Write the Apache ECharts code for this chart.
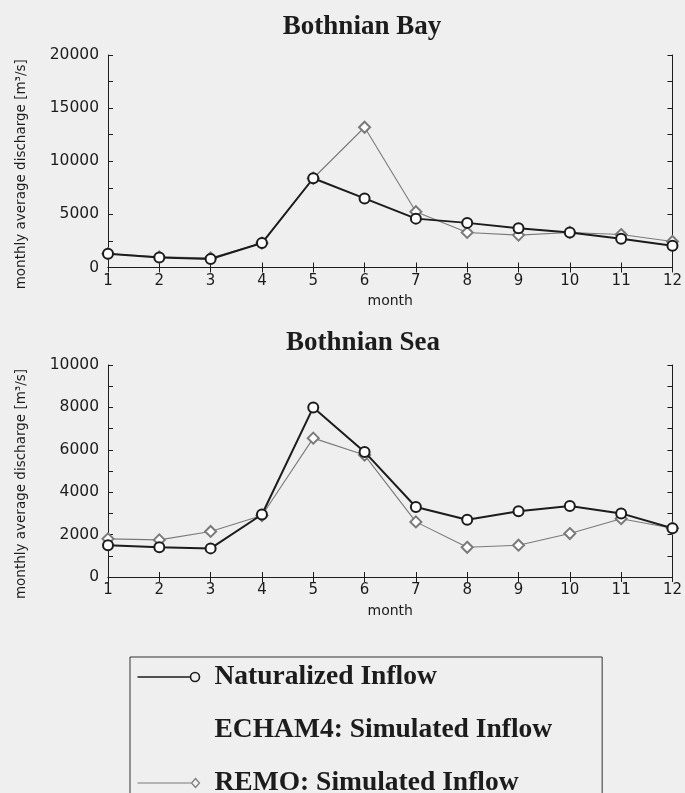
<!DOCTYPE html>
<html>
<head>
<meta charset="utf-8">
<script src="https://cdn.jsdelivr.net/npm/echarts@6/dist/echarts.min.js"></script>
<style>
  html, body { margin: 0; padding: 0; background: #efefef; }
  #chart { width: 685px; height: 793px; }
</style>
</head>
<body>
<div id="chart"></div>
<script>
// Months on the horizontal axis
const months = [1, 2, 3, 4, 5, 6, 7, 8, 9, 10, 11, 12];

// Bothnian Bay, monthly average discharge (m3/s)
const bayNaturalized = [1300, 950, 800, 2300, 8400, 6500, 4600, 4200, 3700, 3300, 2700, 2050];
const bayRemo        = [1300, 1000, 900, 2300, 8400, 13200, 5250, 3300, 3050, 3300, 3100, 2450];

// Bothnian Sea, monthly average discharge (m3/s)
const seaNaturalized = [1500, 1400, 1350, 2950, 8000, 5900, 3300, 2700, 3100, 3350, 3000, 2300];
const seaRemo        = [1800, 1750, 2150, 2900, 6550, 5750, 2600, 1400, 1500, 2050, 2750, 2300];

// Tick labels
const bayTicks = [0, 5000, 10000, 15000, 20000];
const seaTicks = [0, 2000, 4000, 6000, 8000, 10000];

const names = ['Naturalized Inflow', 'ECHAM4: Simulated Inflow', 'REMO: Simulated Inflow'];

const pairs = vals => months.map((m, i) => [m, vals[i]]);

const sansFont = 'DejaVu Sans';
const serifFont = 'Liberation Serif';
const ink = '#1c1c1c';
const remoGrey = '#7a7a7a';
const bg = '#efefef';

// Legend keys: a line ending in the series marker
const circleKey = 'path://M0,6 L53,6 M53,6 A4.5,4.5 0 1 1 62,6 A4.5,4.5 0 1 1 53,6 Z';
const diamondKey = 'path://M0,6 L54,6 M58,1.5 L62,6 L58,10.5 L54,6 Z';

function xAxes(gridIndex) {
  const base = {
    type: 'value', gridIndex, min: 1, max: 12, interval: 1,
    axisLine: { show: true, lineStyle: { color: ink, width: 1 } },
    axisTick: { show: true, inside: true, length: 5, lineStyle: { color: ink } },
    splitLine: { show: false }
  };
  return [
    Object.assign({}, base, {
      position: 'bottom',
      name: 'month', nameLocation: 'middle', nameGap: 27,
      nameTextStyle: { fontFamily: sansFont, fontSize: 14, color: ink },
      axisLabel: { fontFamily: sansFont, fontSize: 15, color: ink, margin: 6 }
    }),
    Object.assign({}, base, { position: 'top', axisLabel: { show: false } })
  ];
}

function yAxes(gridIndex, max, step, labels) {
  const base = {
    type: 'value', gridIndex, min: 0, max, interval: step,
    axisLine: { show: true, lineStyle: { color: ink, width: 1 } },
    axisTick: { show: true, inside: true, length: 5, lineStyle: { color: ink } },
    splitLine: { show: false }
  };
  return [
    Object.assign({}, base, {
      position: 'left',
      name: 'monthly average discharge [m\u00B3/s]', nameLocation: 'middle', nameGap: 80,
      nameTextStyle: { fontFamily: sansFont, fontSize: 13.5, color: ink, padding: [0, 26, 0, 0] },
      axisLabel: {
        fontFamily: sansFont, fontSize: 15.5, color: ink, margin: 9,
        formatter: v => (labels.indexOf(v) >= 0 ? String(v) : '')
      }
    }),
    Object.assign({}, base, { position: 'right', axisLabel: { show: false } })
  ];
}

function naturalSeries(idx, data) {
  return {
    name: names[0], type: 'line', xAxisIndex: idx * 2, yAxisIndex: idx * 2,
    data: pairs(data), symbol: 'emptyCircle', symbolSize: 10, z: 3,
    lineStyle: { color: ink, width: 2 },
    itemStyle: { color: ink, borderWidth: 1.6 }
  };
}
function remoSeries(idx, data) {
  return {
    name: names[2], type: 'line', xAxisIndex: idx * 2, yAxisIndex: idx * 2,
    data: pairs(data), symbol: 'emptyDiamond', symbolSize: 11, z: 2,
    lineStyle: { color: remoGrey, width: 1.1 },
    itemStyle: { color: remoGrey, borderWidth: 1.2 }
  };
}

const chart = echarts.init(document.getElementById('chart'), null, { renderer: 'canvas' });

chart.setOption({
  backgroundColor: bg,
  animation: false,
  title: [
    { text: 'Bothnian Bay', left: 357, top: 9, textAlign: 'center',
      textStyle: { fontFamily: serifFont, fontWeight: 'bold', fontSize: 27, color: ink } },
    { text: 'Bothnian Sea', left: 358, top: 325, textAlign: 'center',
      textStyle: { fontFamily: serifFont, fontWeight: 'bold', fontSize: 27, color: ink } }
  ],
  grid: [
    { left: 108, right: 12, top: 55, height: 212.5 },
    { left: 108, right: 12, top: 365, height: 212 }
  ],
  xAxis: [...xAxes(0), ...xAxes(1)],
  yAxis: [...yAxes(0, 20000, 2500, bayTicks), ...yAxes(1, 10000, 1000, seaTicks)],
  legend: {
    type: 'plain', orient: 'vertical', left: 130, top: 657, height: 300,
    data: [
      { name: names[0], icon: circleKey,
        itemStyle: { color: 'none', borderColor: ink, borderWidth: 1.6 } },
      { name: names[1], icon: 'none' },
      { name: names[2], icon: diamondKey,
        itemStyle: { color: 'none', borderColor: remoGrey, borderWidth: 1.2 } }
    ],
    itemWidth: 62, itemHeight: 12, itemGap: 25,
    padding: [6, 50, 30, 5],
    borderColor: '#333', borderWidth: 1,
    selectedMode: false,
    textStyle: { fontFamily: serifFont, fontWeight: 'bold', fontSize: 27.5, color: ink, padding: [0, 0, 0, 10] }
  },
  series: [
    remoSeries(0, bayRemo),
    naturalSeries(0, bayNaturalized),
    remoSeries(1, seaRemo),
    naturalSeries(1, seaNaturalized),
    {
      name: names[1], type: 'line', xAxisIndex: 0, yAxisIndex: 0, data: [],
      symbol: 'none', lineStyle: { color: bg, width: 1 }, itemStyle: { color: bg }
    }
  ]
});
</script>
</body>
</html>
